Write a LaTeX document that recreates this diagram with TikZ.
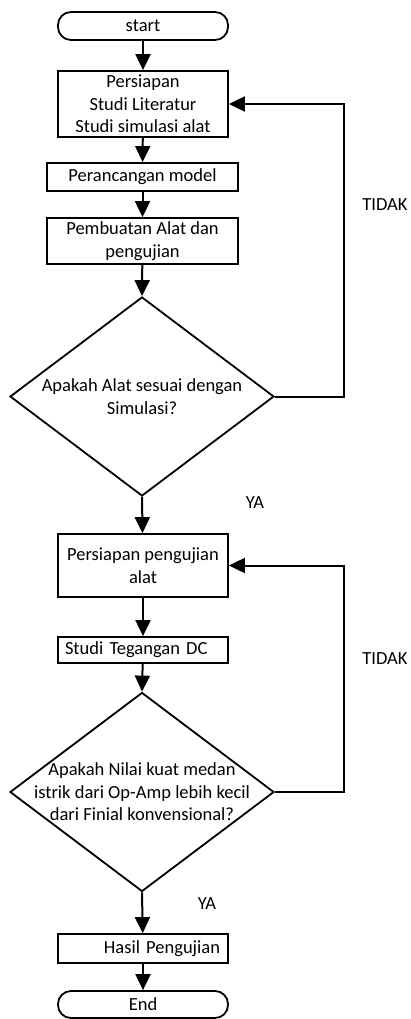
\documentclass[tikz,border=0pt]{standalone}
\usepackage{fontspec}
\setmainfont{Carlito}
\usetikzlibrary{shapes.geometric,arrows.meta}
\tikzset{
  terminal/.style={draw,line width=1.8pt,rounded corners=13pt,minimum width=170pt,inner sep=0pt},
  proses/.style={draw,line width=1.8pt,minimum width=170pt,inner sep=0pt,align=center},
  keputusan/.style={draw,line width=1.8pt,shape=diamond,inner sep=0pt,minimum width=264pt,minimum height=199pt},
  teks/.style={align=center,inner sep=0pt},
  panah/.style={line width=2pt,-{Triangle[width=15pt,length=16pt]}}
}
\begin{document}
\begin{tikzpicture}[x=1pt,y=1pt,font=\fontsize{18.5}{22.5}\selectfont]
                \useasboundingbox (0,0) rectangle (411,-1019);
                % bagian atas
                \node[terminal,minimum height=28pt] (start) at (143,-26) {start};
                \node[proses,minimum height=66pt] (siap) at (143,-104) {Persiapan\\Studi Literatur\\Studi simulasi alat};
                \node[proses,minimum width=191pt,minimum height=28pt] (model) at (142.5,-177) {Perancangan model};
                \node[proses,minimum width=191pt,minimum height=46pt] (buat) at (142.5,-241) {Pembuatan Alat dan\\pengujian};
                \node[keputusan,label={[teks]center:Apakah Alat sesuai dengan\\Simulasi?}] (cek1) at (142,-396.5) {};
                \node (tidak1) at (385,-205) {TIDAK};
                \node (ya1) at (255,-503) {YA};
                \draw[panah] (start) -- (siap);
                \draw[panah] (siap) -- (model);
                \draw[panah] (model) -- (buat);
                \draw[panah] (buat) -- (cek1.north);
                \draw[panah] (cek1.east) -- ++(69,0) |- (siap.east);
                % bagian bawah
                \node[proses,minimum height=63pt] (uji) at (143,-565.5) {Persiapan pengujian\\alat};
                \node[proses,minimum height=26pt,text width=156pt,inner xsep=7pt,align=left] (dc) at (143,-650) {Studi Tegangan DC};
                \node[keputusan,label={[teks]center:Apakah Nilai kuat medan\\istrik dari Op-Amp lebih kecil\\dari Finial konvensional?}] (cek2) at (142,-792) {};
                \node[proses,minimum height=29pt,text width=154pt,inner xsep=8pt,align=right] (hasil) at (143,-948.5) {Hasil Pengujian};
                \node[terminal,minimum height=27pt] (selesai) at (143,-1004.5) {End};
                \node (tidak2) at (385,-659) {TIDAK};
                \node (ya2) at (207,-904) {YA};
                \draw[panah] (cek1.south) -- (uji);
                \draw[panah] (uji) -- (dc);
                \draw[panah] (dc) -- (cek2.north);
                \draw[panah] (cek2.east) -- ++(69,0) |- (uji.east);
                \draw[panah] (cek2.south) -- (hasil);
                \draw[panah] (hasil) -- (selesai);
\end{tikzpicture}
\end{document}
